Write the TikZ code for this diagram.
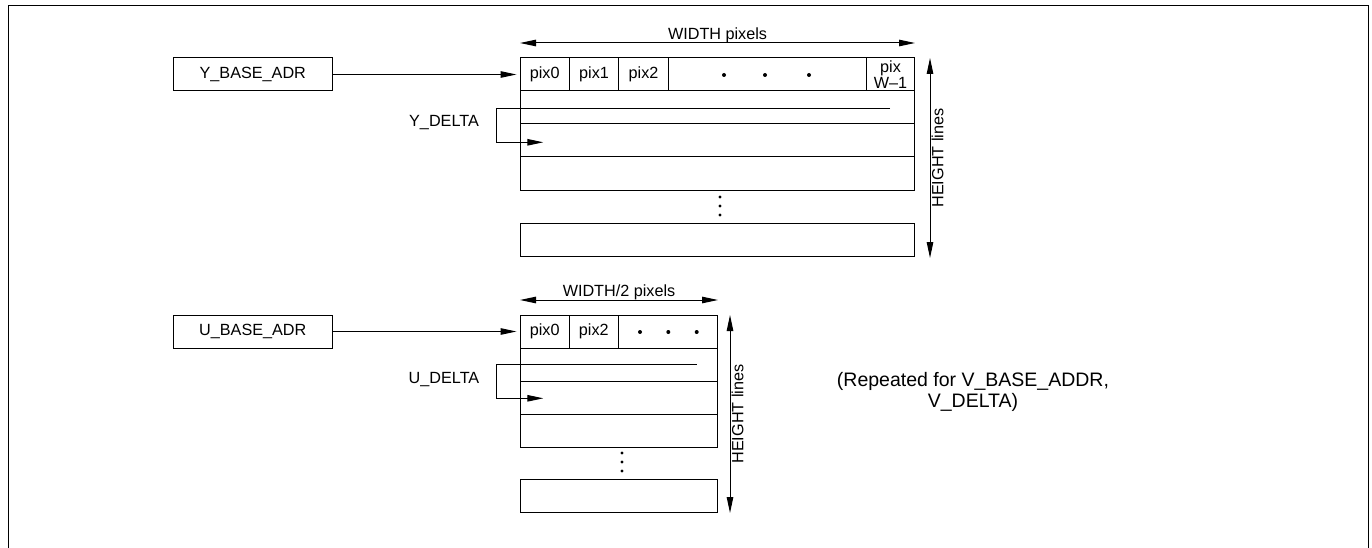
\documentclass[tikz,border=0pt]{standalone}
\usepackage{fontspec}
\setmainfont{Liberation Sans}
\usetikzlibrary{arrows.meta}

\begin{document}
\begin{tikzpicture}[x=1pt,y=-1pt,line width=1pt,
  font=\fontsize{16.2}{18.7}\selectfont,
  cell/.style={draw,rectangle,inner sep=0pt,minimum height=33pt},
  tip/.style={-{Triangle[length=16pt,width=6.5pt]}},
  both/.style={{Triangle[length=16pt,width=6.5pt]}-{Triangle[length=16pt,width=6.5pt]}},
  bigdot/.style={circle,fill,inner sep=0pt,minimum size=4pt},
  smalldot/.style={circle,fill,inner sep=0pt,minimum size=3.2pt}]
\useasboundingbox (0,0) rectangle (1372,548);
\coordinate (f1) at (8,548);
\coordinate (f2) at (8,6);
\coordinate (f3) at (1368,6);
\coordinate (f4) at (1368,548);
\draw (f1) -- (f2) -- (f3) -- (f4);

\node[cell, minimum width=159pt] (ybase) at (252.8,74.5) {Y\_BASE\_ADR};
\node[cell, minimum width=49.3pt] (ypix0) at (544.65,74.5) {pix0};
\node[cell, minimum width=49.4pt] (ypix1) at (594,74.5) {pix1};
\node[cell, minimum width=49.6pt] (ypix2) at (643.5,74.5) {pix2};
\node[cell, minimum width=198.4pt] (ydots) at (767.5,74.5) {};
\node[cell, minimum width=47.6pt, align=center, font=\fontsize{16.2}{16.6}\selectfont] (ypixw) at (890.5,74.5) {pix\\W--1};
\node[bigdot] (yd1) at (724,75) {};
\node[bigdot] (yd2) at (765,75) {};
\node[bigdot] (yd3) at (809,75) {};
\node[cell, minimum width=394.3pt] (yrow1) at (717.15,107.5) {};
\node[cell, minimum width=394.3pt] (yrow2) at (717.15,140.5) {};
\node[cell, minimum width=394.3pt] (yrow3) at (717.15,173.5) {};
\node[smalldot] (yv1) at (720,197) {};
\node[smalldot] (yv2) at (720,206) {};
\node[smalldot] (yv3) at (720,215) {};
\node[cell, minimum width=394.3pt] (yrowl) at (717.15,239.5) {};
\draw[tip, shorten >=3pt] (ybase) -- (ypix0);

\coordinate (ywl) at (520,43);
\coordinate (ywr) at (915,43);
\draw[both] (ywl) -- node[midway, anchor=south, inner sep=0pt] (ywidth) {WIDTH pixels} (ywr);
\coordinate (yht) at (930,58);
\coordinate (yhb) at (930,258);
\draw[both] (yht) -- node[midway, rotate=90, anchor=north, inner sep=1pt] (yheight) {HEIGHT lines} (yhb);

\node (ydelta) at (444,123) {Y\_DELTA};
\coordinate (ya) at (890,108.3);
\coordinate (yb) at (496.7,108.3);
\coordinate (yc) at (496.7,142.3);
\coordinate (ye) at (543.3,142.3);
\draw[tip] (ya) -- (yb) -- (yc) -- (ye);

\node[cell, minimum width=159pt] (ubase) at (252.8,331.5) {U\_BASE\_ADR};
\node[cell, minimum width=49.3pt] (upix0) at (544.65,331.5) {pix0};
\node[cell, minimum width=49pt] (upix2) at (593.8,331.5) {pix2};
\node[cell, minimum width=99.4pt] (udots) at (668,331.5) {};
\node[bigdot] (ud1) at (640,332) {};
\node[bigdot] (ud2) at (668.3,332) {};
\node[bigdot] (ud3) at (696.7,332) {};
\node[cell, minimum width=197.7pt] (urow1) at (618.85,364.5) {};
\node[cell, minimum width=197.7pt] (urow2) at (618.85,397.5) {};
\node[cell, minimum width=197.7pt] (urow3) at (618.85,430.5) {};
\node[smalldot] (uv1) at (622,453) {};
\node[smalldot] (uv2) at (622,462) {};
\node[smalldot] (uv3) at (622,471) {};
\node[cell, minimum width=197.7pt] (urowl) at (618.85,496) {};
\draw[tip, shorten >=3pt] (ubase) -- (upix0);

\coordinate (uwl) at (520,300);
\coordinate (uwr) at (718,300);
\draw[both] (uwl) -- node[midway, anchor=south, inner sep=0pt] (uwidth) {WIDTH/2 pixels} (uwr);
\coordinate (uht) at (730,315);
\coordinate (uhb) at (730,513);
\draw[both] (uht) -- node[midway, rotate=90, anchor=north, inner sep=1pt] (uheight) {HEIGHT lines} (uhb);

\node (udelta) at (444,380) {U\_DELTA};
\coordinate (ua) at (696.7,364.3);
\coordinate (ub) at (496.7,364.3);
\coordinate (uc) at (496.7,398.3);
\coordinate (ue) at (543.3,398.3);
\draw[tip] (ua) -- (ub) -- (uc) -- (ue);

\node[align=center, font=\fontsize{19.5}{20.5}\selectfont] (note) at (973,392) {(Repeated for V\_BASE\_ADDR,\\V\_DELTA)};
\end{tikzpicture}
\end{document}
